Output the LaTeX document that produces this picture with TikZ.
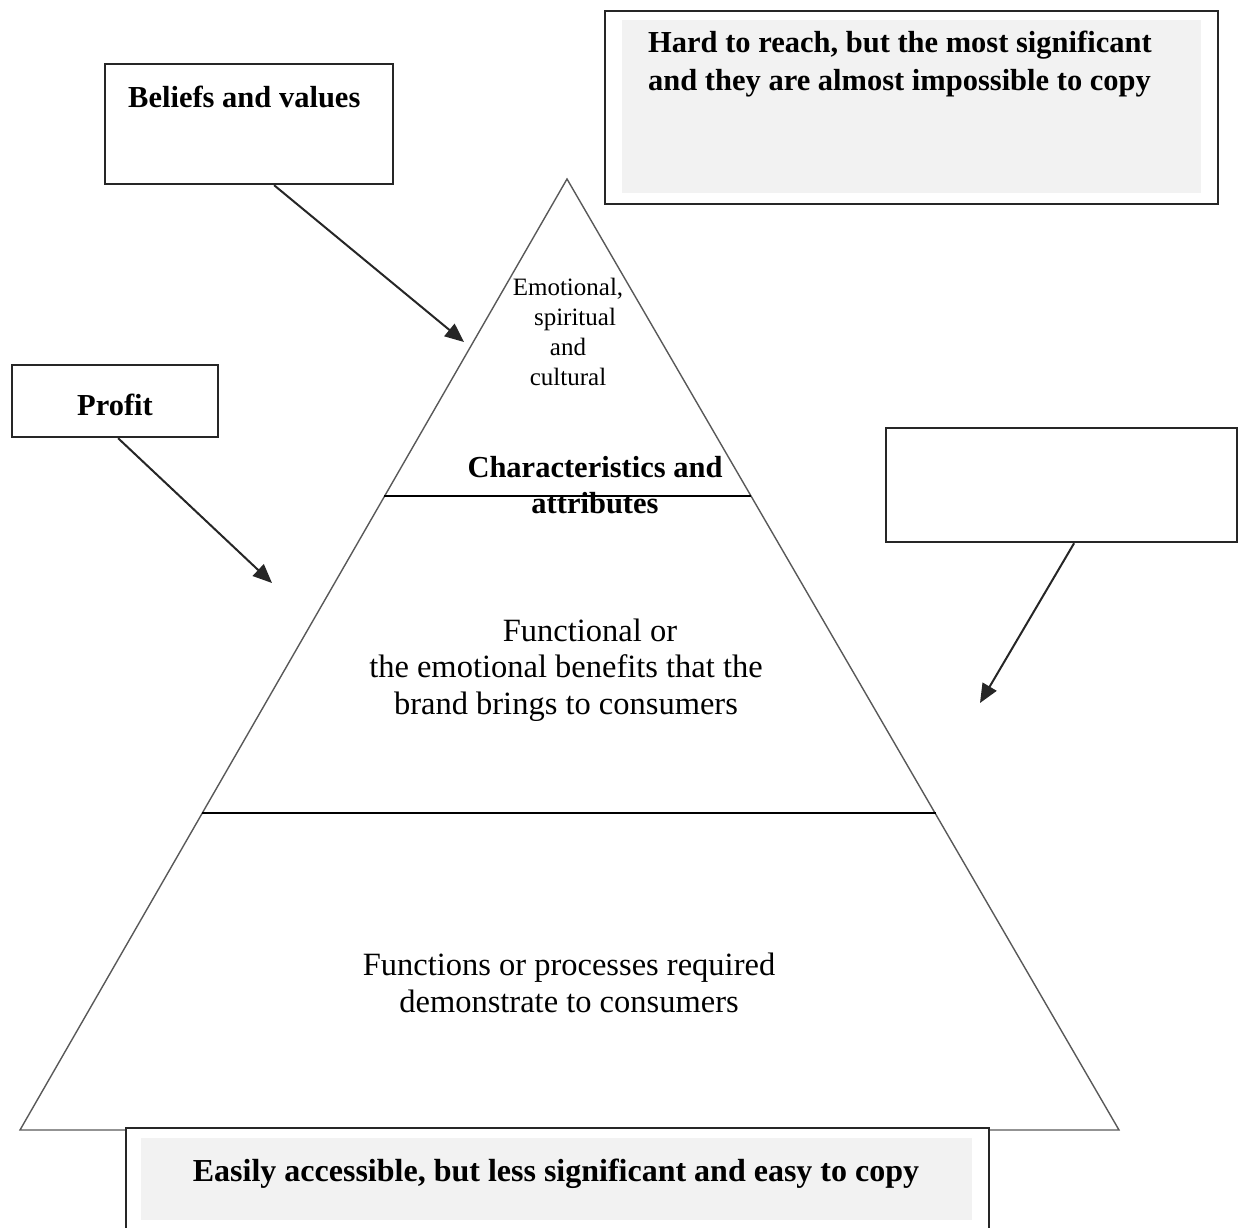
\documentclass[tikz,border=0pt]{standalone}
\usepackage{fontspec}
\setmainfont{Liberation Serif}
\usetikzlibrary{arrows.meta}
\begin{document}
\begin{tikzpicture}[x=1pt,y=-1pt,
  frame/.style={draw=black!85, line width=2.2pt, inner sep=0pt},
  shade/.style={fill=black!5, draw=none, inner sep=0pt},
  pointer/.style={draw=black!85, line width=2pt, -{Triangle[length=19pt,width=16pt]}},
  side/.style={draw=black!65, line width=1.4pt},
  tier/.style={draw=black, line width=2pt},
  headline/.style={font=\fontsize{30.5}{36}\selectfont\bfseries, inner sep=0pt},
  bodytext/.style={font=\fontsize{32.5}{36.5}\selectfont, inner sep=0pt, align=center},
  smalltext/.style={font=\fontsize{25}{30}\selectfont, inner sep=0pt, align=center}]

\path[use as bounding box, clip] (0,0) rectangle (1242,1228);

% pyramid outline
\coordinate (apex) at (567,179);
\coordinate (base left) at (20,1130);
\coordinate (base right) at (1119,1130);
\draw[side, line join=miter] (base left) -- (apex) -- (base right) -- cycle;

% tier dividers
\coordinate (upper left) at (384,496);
\coordinate (upper right) at (751,496);
\coordinate (lower left) at (202,813);
\coordinate (lower right) at (936,813);
\draw[tier] (upper left) -- (upper right);
\draw[tier] (lower left) -- (lower right);

% texts inside the pyramid (base anchor = last line's baseline)
\node (top tier) [smalltext, anchor=base] at (568,385)
  {Emotional,\\\hspace*{14pt}spiritual\\and\\cultural};
\node (attributes) [headline, align=center, anchor=base] at (595,513)
  {Characteristics and\\attributes};
\node (middle tier) [bodytext, anchor=base] at (566,714)
  {\hspace*{48pt}Functional or\\the emotional benefits that the\\brand brings to consumers};
\node (bottom tier) [bodytext, anchor=base] at (569,1012)
  {Functions or processes required\\demonstrate to consumers};

% top-right note
\node (hard box) [frame, anchor=north west, minimum width=613pt, minimum height=193pt] at (604,10) {};
\node (hard shade) [shade, anchor=north west, minimum width=579pt, minimum height=173pt] at (622,20) {};
\node (hard text) [headline, font=\fontsize{30.5}{38.5}\selectfont\bfseries, align=left, anchor=base west] at (648,91)
  {Hard to reach, but the most significant\\and they are almost impossible to copy};

% bottom note
\node (easy box) [frame, fill=white, anchor=north west, minimum width=863pt, minimum height=130pt] at (125,1127) {};
\node (easy shade) [shade, anchor=north west, minimum width=831pt, minimum height=82pt] at (141,1138) {};
\node (easy text) [headline, font=\fontsize{32}{38}\selectfont\bfseries, anchor=base] at (556,1181)
  {Easily accessible, but less significant and easy to copy};

% side boxes
\node (beliefs) [frame, anchor=north west, minimum width=288pt, minimum height=120pt] at (104,63) {};
\node (beliefs text) [headline, anchor=base west] at (128,108) {Beliefs and values};

\node (profit) [frame, anchor=north west, minimum width=206pt, minimum height=72pt] at (11,364) {};
\node (profit text) [headline, anchor=base] at (115,415) {Profit};

\node (benefit box) [frame, anchor=north west, minimum width=351pt, minimum height=114pt] at (885,427) {};

% pointers into the pyramid
\coordinate (beliefs tip) at (464,342);
\coordinate (profit tip) at (272,583);
\coordinate (benefit tip) at (980,703);
\draw[pointer] ([xshift=25pt]beliefs.south) -- (beliefs tip);
\draw[pointer] ([xshift=3pt]profit.south) -- (profit tip);
\draw[pointer] ([xshift=12.5pt]benefit box.south) -- (benefit tip);

\end{tikzpicture}
\end{document}
